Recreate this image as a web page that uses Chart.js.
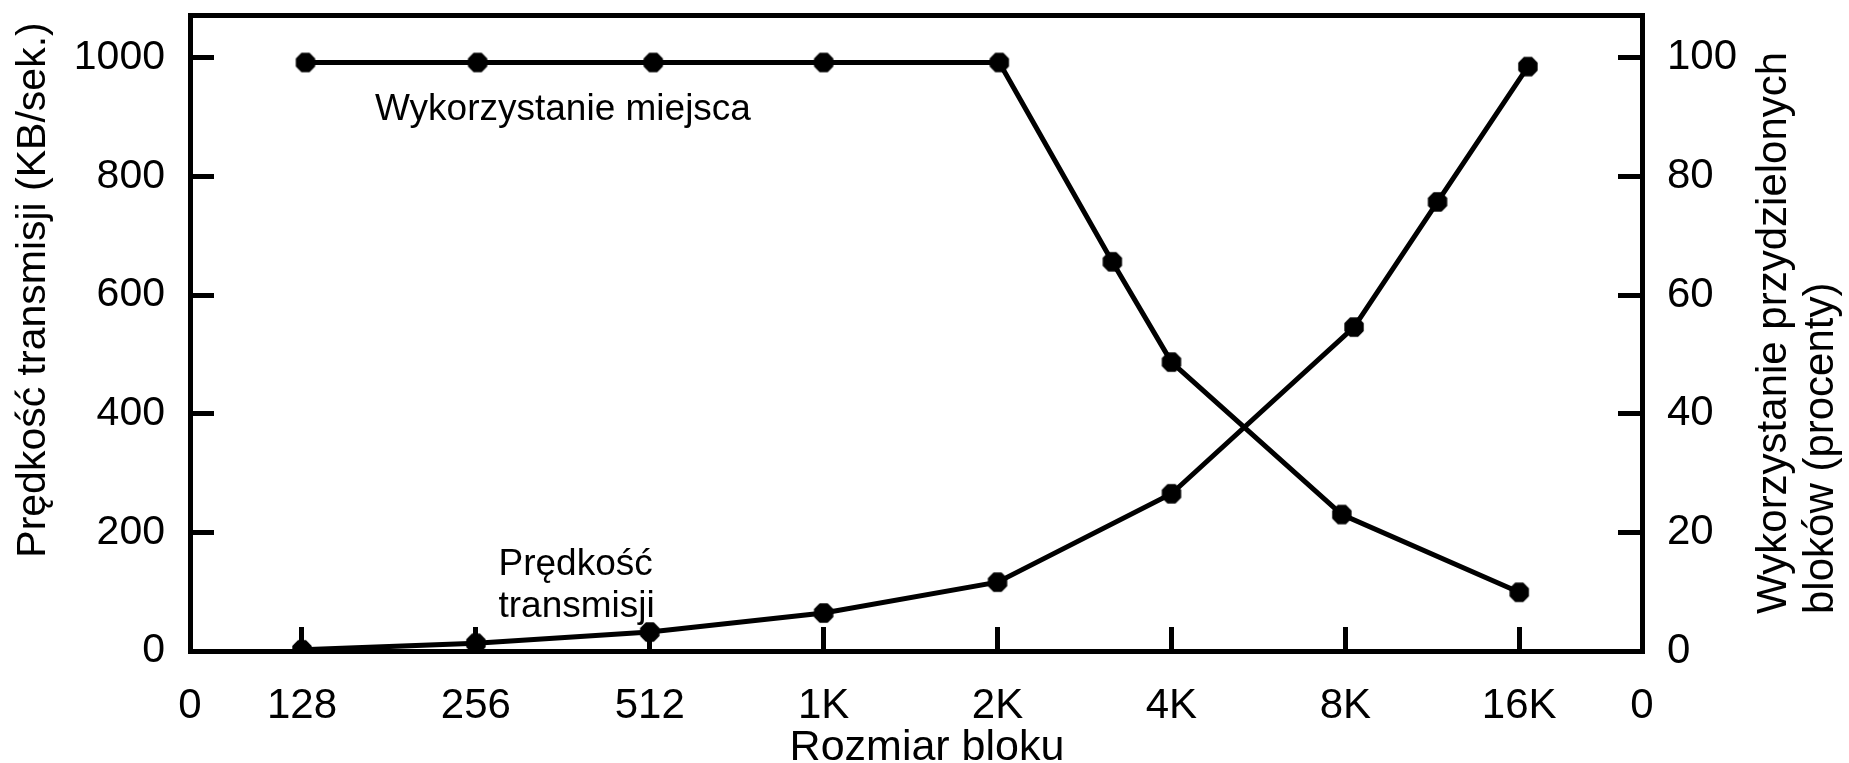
<!DOCTYPE html>
<html>
<head>
<meta charset="utf-8">
<script src="https://cdn.jsdelivr.net/npm/chart.js@4.4.1/dist/chart.umd.min.js"></script>
<style>
  html, body { margin: 0; padding: 0; background: #fff; }
  #wrap { width: 1849px; height: 763px; position: relative; }
</style>
</head>
<body>
<div id="wrap"><canvas id="graphics"></canvas></div>
<script>
// block sizes on the x axis (one step per doubling)
const blockLabels = ['128', '256', '512', '1K', '2K', '4K', '8K', '16K'];
const xTickLabels = ['0', ...blockLabels, '0'];
const yLeftTicks = [0, 200, 400, 600, 800, 1000];
const yRightTicks = [0, 20, 40, 60, 80, 100];

// transmission speed (KB/s), left axis; position = place on block size axis
const speedPos = [0, 1, 2, 3, 4, 5, 6.05, 6.53, 7.05];
const speedValues = [2, 13, 32, 64, 116, 265, 546, 757, 985];

// space utilisation (%), right axis
const usagePos = [0.02, 1.01, 2.02, 3, 4.01, 4.66, 5, 5.98, 7];
const usageValues = [99.2, 99.2, 99.2, 99.2, 99.2, 65.6, 48.7, 23, 9.9];

const xMin = -0.644;
const xMax = 7.706;
const yMax = 1072;

const FONT = "'Liberation Sans', Arial, sans-serif";
const NARROW = "'Liberation Sans Narrow', 'Arial Narrow', 'Liberation Sans', sans-serif";

function makeMarker() {
  const c = document.createElement('canvas');
  c.width = 22;
  c.height = 22;
  const g = c.getContext('2d');
  g.fillStyle = '#000';
  g.beginPath();
  for (let k = 0; k < 8; k++) {
    const a = Math.PI / 8 + k * Math.PI / 4;
    const px = 11 + 10.5 * Math.cos(a);
    const py = 11 + 10.5 * Math.sin(a);
    if (k === 0) g.moveTo(px, py); else g.lineTo(px, py);
  }
  g.closePath();
  g.fill();
  return c;
}
const marker = makeMarker();

// no automatic padding around the plot box
function noPad(s) {
  s.paddingTop = 0;
  s.paddingBottom = 0;
  s.paddingLeft = 0;
  s.paddingRight = 0;
}

// labels inside the plot and the axis titles
const textPlugin = {
  id: 'texts',
  afterDraw(chart) {
    const ctx = chart.ctx;
    const sx = chart.scales.x;
    const sy = chart.scales.y;
    ctx.save();
    ctx.fillStyle = '#000';
    ctx.textBaseline = 'alphabetic';
    ctx.textAlign = 'left';
    ctx.font = '37px ' + FONT;
    ctx.fillText('Wykorzystanie miejsca', sx.getPixelForValue(0.42), sy.getPixelForValue(895));
    ctx.fillText('Prędkość', sx.getPixelForValue(1.13), sy.getPixelForValue(128));
    ctx.fillText('transmisji', sx.getPixelForValue(1.13), sy.getPixelForValue(57));

    ctx.font = '43px ' + FONT;
    ctx.textAlign = 'center';
    ctx.fillText('Rozmiar bloku', 927, 760);

    ctx.font = '41px ' + FONT;
    ctx.save();
    ctx.translate(45, 290);
    ctx.rotate(-Math.PI / 2);
    ctx.textAlign = 'center';
    ctx.fillText('Prędkość transmisji (KB/sek.)', 0, 0);
    ctx.restore();

    ctx.font = '42px ' + FONT;
    ctx.save();
    ctx.translate(1786, 614);
    ctx.rotate(-Math.PI / 2);
    ctx.textAlign = 'left';
    ctx.fillText('Wykorzystanie przydzielonych', 0, 0);
    ctx.restore();

    ctx.save();
    ctx.translate(1833, 614);
    ctx.rotate(-Math.PI / 2);
    ctx.textAlign = 'left';
    ctx.fillText('bloków (procenty)', 0, 0);
    ctx.restore();

    ctx.restore();
  }
};

const tickFont = { family: FONT, size: 42 };
const leftTickFont = { family: NARROW, size: 41 };

const ctx = document.getElementById('graphics').getContext('2d');
const chart = new Chart(ctx, {
  type: 'line',
  data: {
    datasets: [
      {
        label: 'Prędkość transmisji',
        data: speedPos.map((x, i) => ({ x: x, y: speedValues[i] })),
        xAxisID: 'x',
        yAxisID: 'y',
        borderColor: '#000',
        backgroundColor: '#000',
        borderWidth: 5,
        pointStyle: marker,
        pointRadius: 11,
        pointHoverRadius: 11,
        tension: 0,
        fill: false
      },
      {
        label: 'Wykorzystanie miejsca',
        data: usagePos.map((x, i) => ({ x: x, y: usageValues[i] })),
        xAxisID: 'x',
        yAxisID: 'y2',
        borderColor: '#000',
        backgroundColor: '#000',
        borderWidth: 5,
        pointStyle: marker,
        pointRadius: 11,
        pointHoverRadius: 11,
        tension: 0,
        fill: false
      }
    ]
  },
  options: {
    responsive: true,
    maintainAspectRatio: false,
    animation: false,
    events: [],
    layout: { padding: 0, autoPadding: false },
    plugins: {
      legend: { display: false },
      tooltip: { enabled: false }
    },
    scales: {
      x: {
        type: 'linear',
        position: 'bottom',
        min: xMin,
        max: xMax,
        afterBuildTicks: (s) => { s.ticks = [xMin, 0, 1, 2, 3, 4, 5, 6, 7, xMax].map(v => ({ value: v })); },
        afterFit: (s) => { s.height = 112; noPad(s); },
        ticks: {
          callback: (v, i) => xTickLabels[i],
          font: tickFont,
          color: '#000',
          padding: 54,
          maxRotation: 0,
          autoSkip: false
        },
        grid: {
          drawOnChartArea: false,
          drawTicks: true,
          tickLength: -24,
          tickWidth: 5,
          tickColor: (c) => (c.index === 0 || c.index === 9) ? 'rgba(0,0,0,0)' : '#000'
        },
        border: { display: true, color: '#000', width: 5 }
      },
      x2: {
        type: 'linear',
        position: 'top',
        min: 0,
        max: 1,
        afterFit: (s) => { s.height = 15; noPad(s); },
        ticks: { display: false },
        grid: { display: false },
        border: { display: true, color: '#000', width: 5 }
      },
      y: {
        type: 'linear',
        position: 'left',
        min: 0,
        max: yMax,
        afterBuildTicks: (s) => { s.ticks = yLeftTicks.map(v => ({ value: v })); },
        afterFit: (s) => { s.width = 190; noPad(s); },
        ticks: { font: leftTickFont, color: '#000', padding: 49, callback: (v) => String(v) },
        grid: {
          drawOnChartArea: false,
          drawTicks: true,
          tickLength: -24,
          tickWidth: 5,
          tickColor: '#000'
        },
        border: { display: true, color: '#000', width: 5 }
      },
      y2: {
        type: 'linear',
        position: 'right',
        min: 0,
        max: yMax / 10,
        afterBuildTicks: (s) => { s.ticks = yRightTicks.map(v => ({ value: v })); },
        afterFit: (s) => { s.width = 207; noPad(s); },
        ticks: { font: tickFont, color: '#000', padding: 49, callback: (v) => String(v) },
        grid: {
          drawOnChartArea: false,
          drawTicks: true,
          tickLength: -24,
          tickWidth: 5,
          tickColor: '#000'
        },
        border: { display: true, color: '#000', width: 5 }
      }
    }
  },
  plugins: [textPlugin]
});
</script>
</body>
</html>
